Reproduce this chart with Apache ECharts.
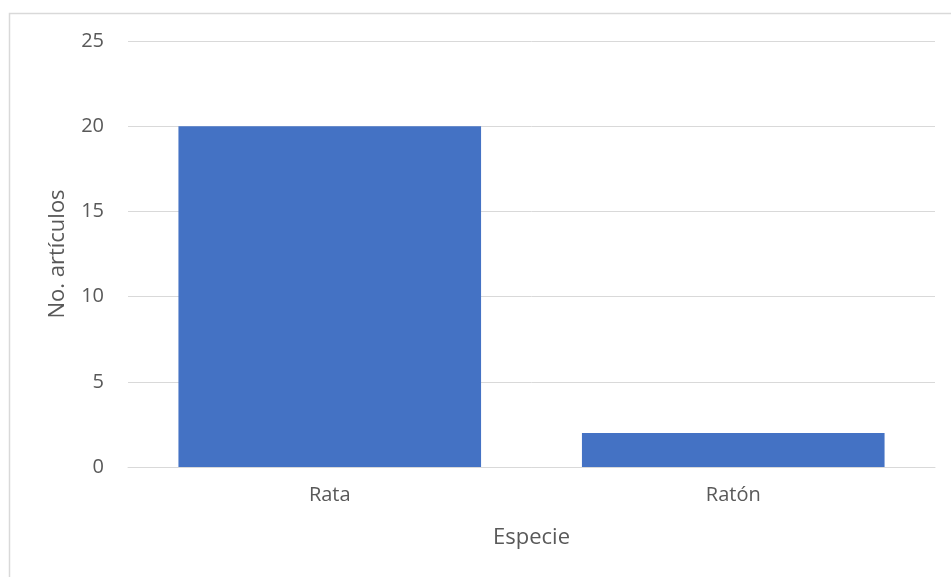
<!DOCTYPE html>
<html>
<head>
<meta charset="utf-8">
<script src="https://cdn.jsdelivr.net/npm/echarts@6/dist/echarts.min.js"></script>
<style>
  html, body { margin: 0; padding: 0; background: #fff; }
  #chart { width: 951px; height: 577px; }
</style>
</head>
<body>
<div id="chart"></div>
<script>
// Number of articles per species
const categories = ['Rata', 'Ratón'];
const articles = [20, 2];
const yTicks = { min: 0, max: 25, interval: 5 };

const textColor = '#595959';
const gridColor = '#d9d9d9';
const font = '"Open Sans", "Noto Sans", sans-serif';

const chart = echarts.init(document.getElementById('chart'), null, { renderer: 'canvas' });
chart.setOption({
  backgroundColor: '#ffffff',
  animation: false,
  graphic: [{
    type: 'rect',
    shape: { x: 9.5, y: 13.5, width: 960, height: 600 },
    style: { fill: 'none', stroke: '#d9d9d9', lineWidth: 1.5 },
    silent: true
  }],
  grid: { left: 128, right: 16, top: 41, bottom: 110, containLabel: false },
  xAxis: {
    type: 'category',
    data: categories,
    name: 'Especie',
    nameLocation: 'middle',
    nameGap: 60,
    nameTextStyle: { color: textColor, fontSize: 22, fontFamily: font },
    axisLine: { show: true, lineStyle: { color: gridColor, width: 1 } },
    axisTick: { show: false },
    axisLabel: { color: textColor, fontSize: 20, fontFamily: font, margin: 18 }
  },
  yAxis: {
    type: 'value',
    min: yTicks.min,
    max: yTicks.max,
    interval: yTicks.interval,
    name: 'No. artículos',
    nameLocation: 'middle',
    nameGap: 59,
    nameTextStyle: { color: textColor, fontSize: 22, fontFamily: font },
    axisLine: { show: false },
    axisTick: { show: false },
    axisLabel: { color: textColor, fontSize: 20, fontFamily: font, margin: 24, padding: [0, 0, 5, 0] },
    splitLine: { lineStyle: { color: gridColor, width: 1 } }
  },
  series: [{
    type: 'bar',
    data: articles,
    barCategoryGap: '25%',
    itemStyle: { color: '#4472C4' }
  }]
});
</script>
</body>
</html>
